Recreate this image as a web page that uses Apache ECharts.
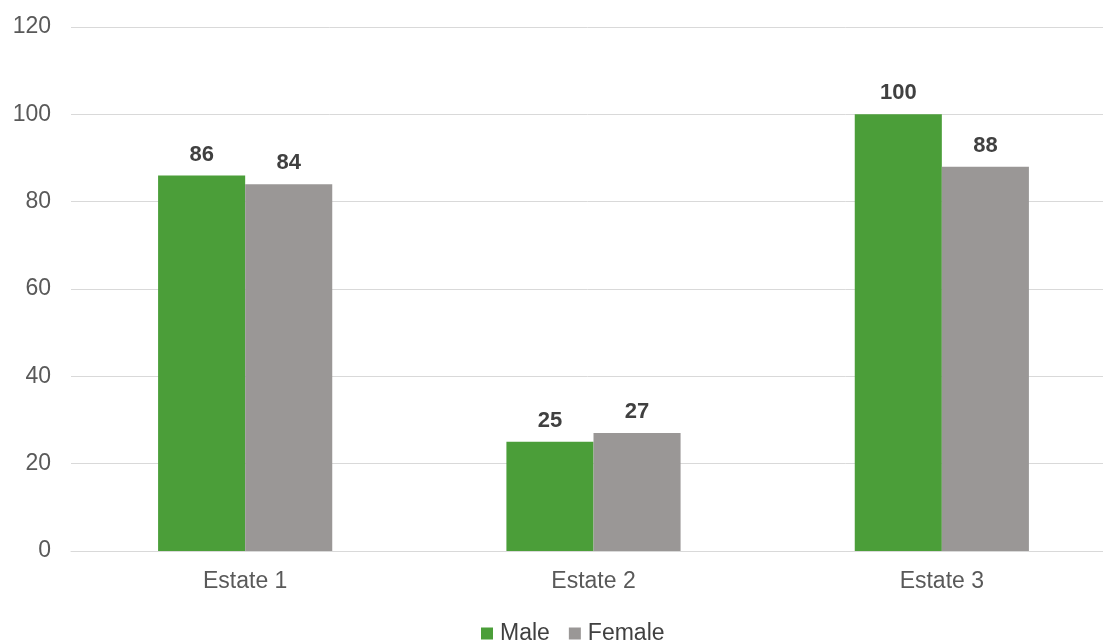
<!DOCTYPE html>
<html>
<head>
<meta charset="utf-8">
<script src="https://cdn.jsdelivr.net/npm/echarts@6/dist/echarts.min.js"></script>
<style>
  html, body { margin: 0; padding: 0; background: #fff; }
  #chart { width: 1103px; height: 641px; }
</style>
</head>
<body>
<div id="chart"></div>
<script>
// Headcount per estate, split by gender
const categories = ['Estate 1', 'Estate 2', 'Estate 3'];
const maleValues = [86, 25, 100];
const femaleValues = [84, 27, 88];
const yTicks = { min: 0, max: 120, interval: 20 };

const font = 'Liberation Sans, Arial, sans-serif';

const chart = echarts.init(document.getElementById('chart'), null, { renderer: 'canvas' });

const labelStyle = {
  show: true,
  position: 'top',
  distance: 10,
  fontFamily: font,
  fontSize: 22,
  fontWeight: 'bold',
  color: '#404040'
};

chart.setOption({
  animation: false,
  backgroundColor: '#ffffff',
  grid: {
    left: 71, top: 27, right: -13, bottom: 90,
    containLabel: false,
    outerBoundsMode: 'none'
  },
  legend: {
    top: 617,
    left: 476,
    itemWidth: 12,
    itemHeight: 12,
    itemGap: 19,
    icon: 'rect',
    textStyle: { fontFamily: font, fontSize: 23, color: '#404040', padding: [0, 0, 0, 2] },
    data: ['Male', 'Female']
  },
  xAxis: {
    type: 'category',
    data: categories,
    axisLine: { lineStyle: { color: '#d9d9d9', width: 1 } },
    axisTick: { show: false },
    axisLabel: { fontFamily: font, fontSize: 23, color: '#595959', margin: 19 }
  },
  yAxis: {
    type: 'value',
    min: yTicks.min,
    max: yTicks.max,
    interval: yTicks.interval,
    axisLine: { show: false },
    axisTick: { show: false },
    splitLine: { lineStyle: { color: '#d9d9d9', width: 1 } },
    axisLabel: { fontFamily: font, fontSize: 23, color: '#595959', margin: 20 }
  },
  series: [
    {
      name: 'Male',
      type: 'bar',
      data: maleValues,
      barGap: '0%',
      barCategoryGap: '50%',
      itemStyle: { color: '#4b9e39' },
      label: labelStyle
    },
    {
      name: 'Female',
      type: 'bar',
      data: femaleValues,
      itemStyle: { color: '#9a9796' },
      label: labelStyle
    }
  ]
});
</script>
</body>
</html>
